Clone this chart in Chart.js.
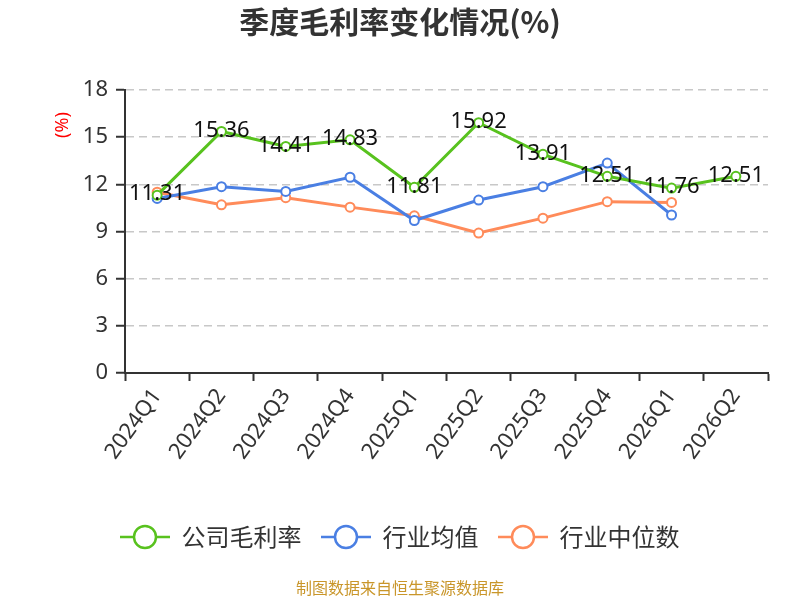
<!DOCTYPE html>
<html>
<head>
<meta charset="utf-8">
<script src="https://cdn.jsdelivr.net/npm/chart.js@4/dist/chart.umd.min.js"></script>
<style>
  body { margin: 0; background: #fff; }
  #wrap { width: 800px; height: 600px; }
</style>
</head>
<body>
<div id="wrap"><canvas id="chart"></canvas></div>
<script>
const quarters = ['2024Q1', '2024Q2', '2024Q3', '2024Q4', '2025Q1', '2025Q2', '2025Q3', '2025Q4', '2026Q1', '2026Q2'];
const companyMargin = [11.31, 15.36, 14.41, 14.83, 11.81, 15.92, 13.91, 12.51, 11.76, 12.51];
const industryAvg = [11.1, 11.85, 11.55, 12.45, 9.7, 11.0, 11.85, 13.35, 10.05, null];
const industryMedian = [11.5, 10.7, 11.15, 10.55, 10.0, 8.9, 9.85, 10.9, 10.85, null];
const yTicks = [0, 3, 6, 9, 12, 15, 18];

const FONT = "'Noto Sans', 'Noto Sans CJK SC', sans-serif";
const CJK = "'Noto Sans CJK SC', 'Noto Sans', sans-serif";
const GREEN = '#58c21e';
const BLUE = '#4a7fe3';
const ORANGE = '#ff8b5a';

// legend marker: short line with an open circle on it
function legendIcon(color) {
    let c = document.createElement('canvas');
    c.width = 50;
    c.height = 28;
    let g = c.getContext('2d');
    g.strokeStyle = color;
    g.lineWidth = 2.5;
    g.beginPath();
    g.moveTo(0, 14);
    g.lineTo(50, 14);
    g.stroke();
    g.fillStyle = '#fff';
    g.beginPath();
    g.arc(25, 14, 11, 0, Math.PI * 2);
    g.fill();
    g.stroke();
    return c;
}

function series(label, data, color) {
    return {
        label: label,
        data: data,
        borderColor: color,
        backgroundColor: '#fff',
        borderWidth: 3,
        pointRadius: 4.5,
        pointBorderWidth: 2,
        pointBackgroundColor: '#fff',
        pointBorderColor: color,
        tension: 0,
        icon: legendIcon(color),
    };
}

const valueLabels = {
    id: 'valueLabels',
    afterDatasetsDraw(chart) {
        let ctx = chart.ctx;
        let meta = chart.getDatasetMeta(0);
        ctx.save();
        ctx.font = '22px ' + FONT;
        ctx.fillStyle = '#111';
        ctx.textAlign = 'center';
        ctx.textBaseline = 'middle';
        meta.data.forEach((pt, i) => {
            ctx.fillText(companyMargin[i].toFixed(2), pt.x, pt.y - 1);
        });
        ctx.restore();
    },
};

const extraText = {
    id: 'extraText',
    afterDraw(chart) {
        let ctx = chart.ctx;
        ctx.save();
        ctx.font = '16px ' + CJK;
        ctx.fillStyle = '#c9962a';
        ctx.textAlign = 'center';
        ctx.textBaseline = 'middle';
        ctx.fillText('制图数据来自恒生聚源数据库', 400, 588);

        ctx.translate(63, 125);
        ctx.rotate(-Math.PI / 2);
        ctx.font = '18px ' + FONT;
        ctx.fillStyle = '#f00';
        ctx.fillText('(%)', 0, 0);
        ctx.restore();
    },
};

new Chart(document.getElementById('chart'), {
    type: 'line',
    data: {
        labels: quarters,
        datasets: [
            series('公司毛利率', companyMargin, GREEN),
            series('行业均值', industryAvg, BLUE),
            series('行业中位数', industryMedian, ORANGE),
        ],
    },
    options: {
        responsive: true,
        maintainAspectRatio: false,
        animation: false,
        devicePixelRatio: 1,
        layout: {
            padding: { top: 0, right: 21, bottom: 41, left: 21 },
        },
        plugins: {
            title: {
                display: true,
                text: '季度毛利率变化情况(%)',
                color: '#333',
                font: { family: CJK, size: 30, weight: 'bold' },
                padding: { top: 4, bottom: 50 },
            },
            legend: {
                position: 'bottom',
                labels: {
                    usePointStyle: true,
                    pointStyleWidth: 49,
                    color: '#333',
                    font: { family: CJK, size: 24 },
                    padding: 20,
                    generateLabels(chart) {
                        let items = Chart.defaults.plugins.legend.labels.generateLabels(chart);
                        items.forEach(it => {
                            it.pointStyle = chart.data.datasets[it.datasetIndex].icon;
                        });
                        return items;
                    },
                },
            },
            tooltip: { enabled: false },
        },
        scales: {
            x: {
                offset: true,
                grid: {
                    display: true,
                    drawOnChartArea: false,
                    drawTicks: true,
                    offset: true,
                    tickLength: 8,
                    tickColor: '#333',
                    tickWidth: 2,
                },
                border: { color: '#333', width: 2 },
                ticks: {
                    color: '#333',
                    font: { family: FONT, size: 22 },
                    minRotation: 54,
                    maxRotation: 54,
                    autoSkip: false,
                },
                afterFit(s) { s.height = 132; },
            },
            y: {
                min: 0,
                max: 18,
                afterBuildTicks(s) { s.ticks = yTicks.map(v => ({ value: v })); },
                grid: {
                    color: '#c8c8c8',
                    lineWidth: 1.5,
                    tickLength: 9,
                    tickColor: '#333',
                    tickWidth: 2,
                },
                border: { color: '#333', width: 2, dash: [8, 5] },
                ticks: {
                    color: '#333',
                    font: { family: FONT, size: 22 },
                    padding: 8,
                },
                afterFit(s) { s.width = 104; },
            },
            // empty spacer on the right so the plot ends where the original does
            spacer: {
                type: 'linear',
                position: 'right',
                grid: { display: false },
                border: { display: false },
                ticks: { display: false },
                afterFit(s) { s.width = 11; },
            },
        },
    },
    plugins: [valueLabels, extraText],
});
</script>
</body>
</html>
